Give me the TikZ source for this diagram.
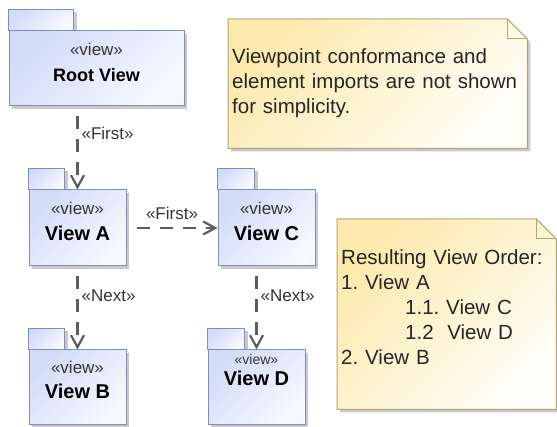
\documentclass[tikz,border=0pt]{standalone}
\usepackage{fontspec}
\setmainfont{Liberation Sans}
\usetikzlibrary{arrows.meta,shadows,backgrounds}

\definecolor{pkgline}{HTML}{7D8DBE}
\definecolor{pkgdark}{HTML}{D2DBF8}
\definecolor{pkglight}{HTML}{F7F9FF}
\definecolor{noteline}{HTML}{B3A472}
\definecolor{notedark}{HTML}{FDE9AC}
\definecolor{notelight}{HTML}{FFFEF8}
\definecolor{depline}{HTML}{5C5C5C}

\newcommand{\stereo}[1][17]{{\fontsize{#1}{25}\selectfont\mdseries\color{black!80}«view»}}

\tikzset{
  pkgshade/.style={draw=pkgline, line width=1pt, left color=pkgdark,
    right color=pkglight, shading angle=45,
    drop shadow={shadow xshift=3pt, shadow yshift=-3pt, fill=black!35, opacity=.6}},
  pkg/.style={pkgshade, rectangle, minimum width=97pt, minimum height=76pt, inner sep=0pt},
  pkgtext/.style={align=center, inner sep=0pt, text=black,
    font=\fontsize{20}{25.5}\selectfont\bfseries},
  notetext/.style={anchor=north west, align=left, inner xsep=4pt, inner ysep=0pt,
    text=black!85, font=\fontsize{20.5}{25}\selectfont},
  notebody/.style={draw=noteline, line width=1pt, left color=notedark,
    right color=notelight, shading angle=45,
    drop shadow={shadow xshift=3pt, shadow yshift=-3pt, fill=black!35, opacity=.6}},
  notefold/.style={draw=noteline, line width=1pt},
  dep/.style={draw=depline, line width=2.2pt, dash pattern=on 13pt off 10pt,
    dash phase=13pt, -{Straight Barb[length=12pt, width=13pt]}},
  deplabel/.style={inner sep=3pt, text=black!80, font=\fontsize{17}{20}\selectfont}
}

\begin{document}
\frenchspacing
\begin{tikzpicture}[x=1pt,y=-1pt]
  \useasboundingbox (0,0) rectangle (557,427);

  % packages
  \node[pkg] (rootv) at (96.5,68.5) [minimum width=175pt, minimum height=75pt,
    label={[pkgtext,yshift=6pt]center:{\stereo\\\fontsize{18}{25}\selectfont Root View}}] {};
  \node[pkg] (viewa) at (77.5,228)   [label={[pkgtext,yshift=6.5pt]center:{\stereo\\View A}}] {};
  \node[pkg] (viewc) at (266.5,228)  [label={[pkgtext,yshift=6.5pt]center:{\stereo\\View C}}] {};
  \node[pkg] (viewb) at (77.5,387.5) [minimum height=75pt,
    label={[pkgtext,yshift=7.5pt]center:{\stereo\\View B}}] {};
  \node[pkg] (viewd) at (256.5,387.5) [minimum height=75pt,
    label={[pkgtext,yshift=17.5pt,font=\fontsize{20}{20.5}\selectfont\bfseries]center:{\stereo[14]\\View D}}] {};

  % notes
  \node[notetext, text width=291pt, minimum width=299pt, minimum height=129pt] (conform) at (228,19)
    {Viewpoint conformance and\\element imports are not shown\\for simplicity.};
  \node[notetext, text width=211pt, minimum width=219pt, minimum height=176pt] (order) at (337,219)
    {Resulting View Order:\\1. View A\\\hspace*{64pt}1.1. View C\\\hspace*{64pt}1.2\ \ View D\\2. View B};

  \begin{scope}[on background layer]
    \foreach \p/\w in {rootv/65,viewa/36,viewc/37,viewb/36,viewd/37}
      \path[pkgshade] (\p.north west) rectangle ++(\w,-21);
    \foreach \n/\d in {conform/0,order/14} {
      \path[notebody] (\n.north west) -- ([xshift=-20pt]\n.north east)
        -- ([yshift=-20pt]\n.north east) -- ([yshift=-\d pt]\n.south east)
        -- ([yshift=-\d pt]\n.south west) -- cycle;
      \draw[notefold] ([xshift=-20pt]\n.north east) |- ([yshift=-20pt]\n.north east);
    }
  \end{scope}

  \begin{scope}[every node/.style={deplabel}]
    \path (rootv.south -| viewa.north) edge[dep] node[pos=.32,right] {«First»} (viewa.north);
    \path (viewa) edge[dep] node[above=4pt] {«First»} (viewc);
    \path (viewa) edge[dep] node[pos=.35,right] {«Next»} (viewb);
    \path (viewc.south -| viewd.north) edge[dep] node[pos=.35,right] {«Next»} (viewd.north);
  \end{scope}

\end{tikzpicture}
\end{document}
